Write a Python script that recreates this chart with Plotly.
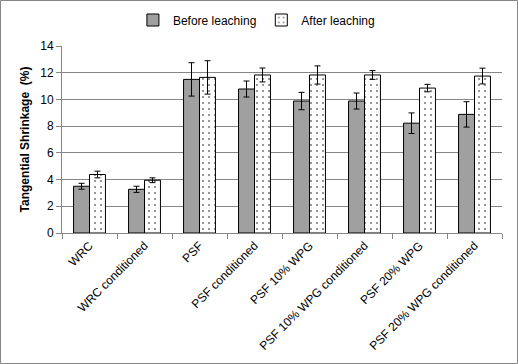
import plotly.graph_objects as go

categories = ["WRC", "WRC conditioned", "PSF", "PSF conditioned", "PSF 10% WPG",
              "PSF 10% WPG conditioned", "PSF 20% WPG", "PSF 20% WPG conditioned"]
before = [3.5, 3.27, 11.5, 10.78, 9.88, 9.88, 8.22, 8.88]
before_err = [0.22, 0.23, 1.25, 0.6, 0.65, 0.6, 0.77, 0.95]
after = [4.38, 3.95, 11.65, 11.83, 11.83, 11.83, 10.85, 11.75]
after_err = [0.25, 0.18, 1.25, 0.52, 0.68, 0.33, 0.28, 0.59]

font = "Liberation Sans"
W, H = 518, 364
ml, mr, mt, mb = 62, 16, 46, 131
pw, ph = W - ml - mr, H - mt - mb

fig = go.Figure()
fig.add_trace(go.Bar(
    x=categories, y=before, name="Before leaching",
    marker=dict(color="white", line=dict(color="black", width=1),
                pattern=dict(shape=".", fgcolor="black", bgcolor="white", size=2, solidity=0.75)),
    error_y=dict(type="data", array=before_err, color="black", thickness=1, width=3),
))
fig.add_trace(go.Bar(
    x=categories, y=after, name="After leaching",
    marker=dict(color="white", line=dict(color="black", width=1),
                pattern=dict(shape=".", fgcolor="black", bgcolor="white", size=6, solidity=0.1)),
    error_y=dict(type="data", array=after_err, color="black", thickness=1, width=3),
))

fig.update_layout(
    width=W, height=H,
    margin=dict(l=ml, r=mr, t=mt, b=mb, autoexpand=False),
    paper_bgcolor="white", plot_bgcolor="white",
    barmode="group", bargap=0.42, bargroupgap=0,
    font=dict(family=font, size=12, color="black"),
    legend=dict(orientation="h", x=0.495, xanchor="center", yref="container", y=1 - 20 / H,
                yanchor="middle", xref="container",
                font=dict(size=12), bgcolor="rgba(0,0,0,0)"),
    showlegend=True,
)
fig.update_yaxes(
    range=[0, 14], dtick=2, showgrid=True, gridcolor="#868686", gridwidth=1,
    showline=True, linecolor="#868686", ticks="outside", ticklen=5, tickcolor="#868686",
    title=dict(text="<b>Tangential Shrinkage  (%)</b>", font=dict(size=12), standoff=8),
    zeroline=False, automargin=False,
)
fig.update_xaxes(
    showline=True, linecolor="#868686", ticks="outside", ticklen=5, tickcolor="#868686",
    tickson="boundaries", tickangle=-45, showgrid=False, automargin=False,
)
fig.add_shape(type="rect", xref="paper", yref="paper",
              x0=(0.5 - ml) / pw, x1=(W - 0.5 - ml) / pw,
              y0=-(mb - 0.5) / ph, y1=1 + (mt - 0.5) / ph,
              line=dict(color="#868686", width=1), fillcolor="rgba(0,0,0,0)", layer="below")

fig.write_html("out.html", config={"displayModeBar": False},
               post_script="document.body.style.margin='0';document.body.style.overflow='hidden';")
